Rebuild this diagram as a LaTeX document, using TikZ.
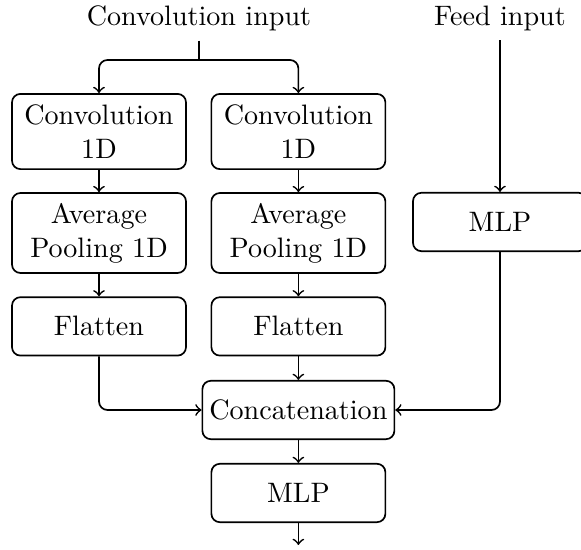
\documentclass[tikz,border=0pt]{standalone}
\usetikzlibrary{positioning,calc}

\begin{document}
\begin{tikzpicture}[
    box/.style={rectangle, draw, semithick, rounded corners=3pt, minimum width=2.175cm, align=center, inner sep=2pt},
    twoline/.style={box, minimum height=0.94cm},
    oneline/.style={box, minimum height=0.73cm},
    arrow/.style={->, semithick},
    elbow/.style={arrow, rounded corners=3pt},
    label/.style={inner sep=3.33pt}
]
\useasboundingbox (0,0) rectangle (7.2625,-6.875);

% Inputs
\node[label] (convin) at (2.4875, -0.225) {Convolution input};
\node[label] (feedin) at (6.25, -0.225) {Feed input};
\coordinate (split) at (2.4875, -0.75);

% Left branch
\node[twoline] (conva) at (1.2375, -1.644) {Convolution\\1D};
\node[twoline, minimum height=1.0cm] (poola) at (1.2375, -2.9125) {Average\\Pooling 1D};
\node[oneline] (flata) at (1.2375, -4.08) {Flatten};

% Right branch
\node[twoline] (convb) at (3.73, -1.644) {Convolution\\1D};
\node[twoline, minimum height=1.0cm] (poolb) at (3.73, -2.9125) {Average\\Pooling 1D};
\node[oneline] (flatb) at (3.73, -4.08) {Flatten};

% Feed branch
\node[oneline] (mlpfeed) at (6.25, -2.775) {MLP};

% Merge and output
\node[oneline, minimum width=2.4cm] (concat) at (3.73, -5.125) {Concatenation};
\node[oneline] (mlpout) at (3.73, -6.1625) {MLP};
\coordinate (outend) at (3.73, -6.8125);

% Connectors
\draw[semithick] (convin.south) -- (split);
\draw[elbow] (split) -| (conva.north);
\draw[elbow] (split) -| (convb.north);
\draw[arrow] (conva) -- (poola);
\draw[arrow] (poola) -- (flata);
\draw[arrow] (convb) -- (poolb);
\draw[arrow] (poolb) -- (flatb);
\draw[arrow] (feedin.south) -- (mlpfeed.north);
\draw[elbow] (flata.south) |- (concat.west);
\draw[arrow] (flatb) -- (concat);
\draw[elbow] (mlpfeed.south) |- (concat.east);
\draw[arrow] (concat) -- (mlpout);
\draw[arrow] (mlpout.south) -- (outend);

\end{tikzpicture}
\end{document}
